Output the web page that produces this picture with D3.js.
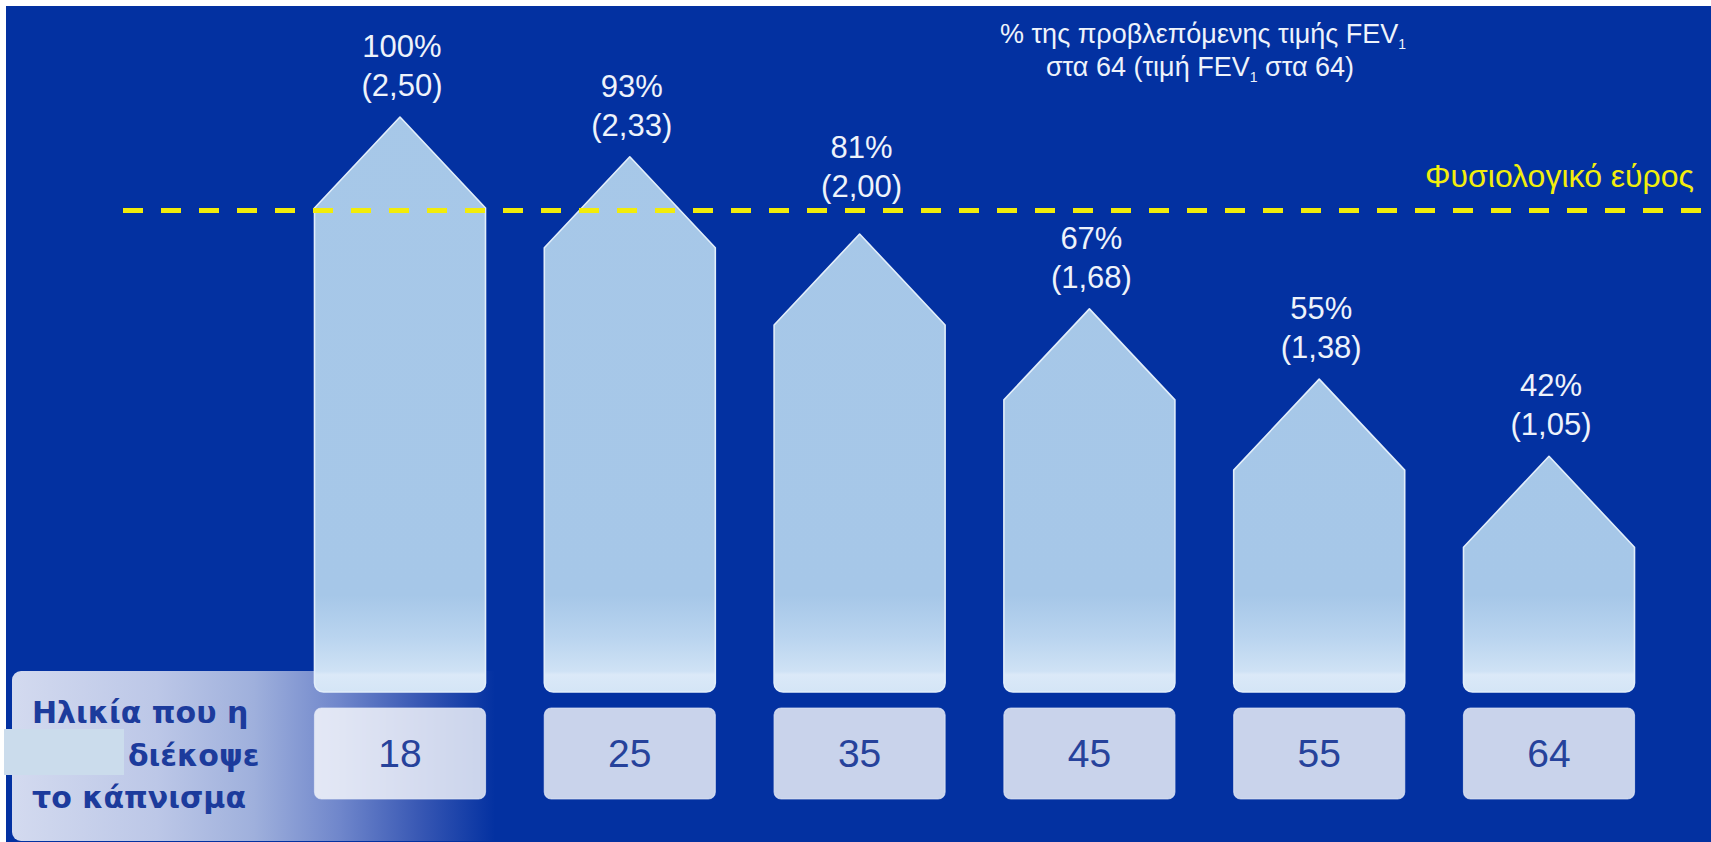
<!DOCTYPE html>
<html>
<head>
<meta charset="utf-8">
<script src="https://cdn.jsdelivr.net/npm/d3@7"></script>
<style>
  html, body { margin: 0; padding: 0; background: #ffffff; }
  svg { display: block; }
  text { font-family: "Liberation Sans", Arial, Helvetica, sans-serif; }
  text.axis-title { font-family: "DejaVu Sans", Verdana, sans-serif; font-weight: bold; }
</style>
</head>
<body>
<svg id="chart" width="1711" height="842"></svg>
<script>
// Age at which smoking stopped, and FEV1 at 64 for each
const ages = ["18", "25", "35", "45", "55", "64"];
const fevPercent = [100, 93, 81, 67, 55, 42];           // % of predicted FEV1 at 64
const fevLitres = [2.50, 2.33, 2.00, 1.68, 1.38, 1.05]; // FEV1 value at 64
const normalRangeLimit = 2.10;                          // lower edge of the normal range

const titleLines = ["% της προβλεπόμενης τιμής FEV", "στα 64 (τιμή FEV"];
const normalLabel = "Φυσιολογικό εύρος";
const axisTitle = ["Ηλικία που η", "διέκοψε", "το κάπνισμα"];

const W = 1711, H = 842;
const svg = d3.select("#chart");
const defs = svg.append("defs");

// layout
const baseY = 692;       // bottom of the arrows
const barW = 171;
const roofH = 91;
const boxTop = 708, boxH = 91;

const x = d3.scalePoint().domain(ages).range([400, 1549]);
const y = d3.scaleLinear().domain([0, 2.5]).range([702, 117]);
const lineY = y(normalRangeLimit);

const data = ages.map((a, i) => ({ age: a, pct: fevPercent[i], val: fevLitres[i] }));
const fmt = v => "(" + d3.format(".2f")(v).replace(".", ",") + ")";

// background
svg.append("rect").attr("x", 6).attr("y", 6).attr("width", W - 6).attr("height", H - 6)
  .attr("fill", "#0331a1");

// gradients
const panelGrad = defs.append("linearGradient").attr("id", "panelGrad")
  .attr("gradientUnits", "userSpaceOnUse").attr("x1", 12).attr("x2", 495).attr("y1", 0).attr("y2", 0);
[[0, "#d3daef"], [0.3, "#bcc7e7"], [0.5, "#9fb0dc"], [0.68, "#6f86cb"], [0.85, "#3656b3"], [1, "#0331a1"]]
  .forEach(([o, c]) => panelGrad.append("stop").attr("offset", o).attr("stop-color", c));

const barFill = defs.append("linearGradient").attr("id", "barFill")
  .attr("gradientUnits", "userSpaceOnUse").attr("x1", 0).attr("x2", 0).attr("y1", 0).attr("y2", baseY);
[[0, "#a7c8e8"], [0.86, "#a6c7e8"], [0.92, "#b9d4ef"], [0.97, "#cfe2f5"], [0.975, "#dbe9f8"], [1, "#d4e5f6"]]
  .forEach(([o, c]) => barFill.append("stop").attr("offset", o).attr("stop-color", c));

// left panel behind the age boxes
svg.append("rect")
  .attr("x", 12).attr("y", 671).attr("width", 520).attr("height", 170).attr("rx", 9)
  .attr("fill", "url(#panelGrad)");

// dashed normal-range line
function normalLine() {
  svg.append("line")
    .attr("x1", 123).attr("x2", W).attr("y1", lineY).attr("y2", lineY)
    .attr("stroke", "#f2ec0a").attr("stroke-width", 5)
    .attr("stroke-dasharray", "20 18");
}
normalLine();

// arrow-shaped bars
function arrowPath(d) {
  const cx = x(d.age), x0 = cx - barW / 2, x1 = cx + barW / 2;
  const top = y(d.val), sh = top + roofH, r = 9;
  const p = d3.path();
  p.moveTo(x0, sh);
  p.lineTo(cx, top);
  p.lineTo(x1, sh);
  p.lineTo(x1, baseY - r);
  p.arcTo(x1, baseY, x1 - r, baseY, r);
  p.lineTo(x0 + r, baseY);
  p.arcTo(x0, baseY, x0, baseY - r, r);
  p.closePath();
  return p.toString();
}

svg.append("g").selectAll("path").data(data).join("path")
  .attr("d", arrowPath)
  .attr("fill", "url(#barFill)")
  .attr("stroke", "#e2eefa").attr("stroke-width", 1.6)
  .attr("stroke-linejoin", "round");

// the dashes stay visible across the arrows
normalLine();

// value labels above each arrow, lifted clear of the dashed line when they would touch it
function labelBase(d) {
  let b = y(d.val) - 21;
  if (b > lineY - 14 && b - 28 < lineY + 4) b = lineY - 14;
  return b;
}
const lbl = svg.append("g").attr("fill", "#eef3fb").attr("text-anchor", "middle")
  .style("font-size", "31px");
lbl.selectAll("text.pct").data(data).join("text").attr("class", "pct")
  .attr("x", d => x(d.age) + 2).attr("y", d => labelBase(d) - 39)
  .text(d => d.pct + "%");
lbl.selectAll("text.val").data(data).join("text").attr("class", "val")
  .attr("x", d => x(d.age) + 2).attr("y", d => labelBase(d))
  .text(d => fmt(d.val));

// age boxes (category axis)
const boxes = svg.append("g");
boxes.selectAll("rect").data(ages).join("rect")
  .attr("x", d => x(d) - barW / 2).attr("y", boxTop)
  .attr("width", barW).attr("height", boxH).attr("rx", 7)
  .attr("fill", "#ffffff").attr("fill-opacity", 0.79)
  .attr("stroke", "#e4e9f6").attr("stroke-opacity", 0.7).attr("stroke-width", 1.2);
boxes.selectAll("text").data(ages).join("text")
  .attr("x", d => x(d)).attr("y", 767)
  .attr("text-anchor", "middle")
  .attr("fill", "#26429b")
  .style("font-size", "39px")
  .text(d => d);

// axis title in the panel
const at = svg.append("g").attr("fill", "#1c3b9c").style("font-size", "30px");
at.append("text").attr("class", "axis-title").attr("x", 32).attr("y", 723).text(axisTitle[0]);
at.append("text").attr("class", "axis-title").attr("x", 128).attr("y", 766).text(axisTitle[1]);
at.append("text").attr("class", "axis-title").attr("x", 32).attr("y", 808).text(axisTitle[2]);
svg.append("rect").attr("x", 4).attr("y", 729).attr("width", 120).attr("height", 46)
  .attr("fill", "#cbdcec");

// chart title (top right)
const tt = svg.append("g").attr("fill", "#eef3fb").attr("text-anchor", "middle").style("font-size", "27px");
const t1 = tt.append("text").attr("x", 1203).attr("y", 43);
t1.append("tspan").text(titleLines[0]);
t1.append("tspan").attr("dy", 6).style("font-size", "14px").text("1");
const t2 = tt.append("text").attr("x", 1200).attr("y", 76);
t2.append("tspan").text(titleLines[1]);
t2.append("tspan").attr("dy", 6).style("font-size", "14px").text("1");
t2.append("tspan").attr("dy", -6).text(" στα 64)");

// normal-range label
svg.append("text")
  .attr("x", 1694).attr("y", 187).attr("text-anchor", "end")
  .attr("fill", "#f2ee0c").style("font-size", "32px")
  .text(normalLabel);
</script>
</body>
</html>
